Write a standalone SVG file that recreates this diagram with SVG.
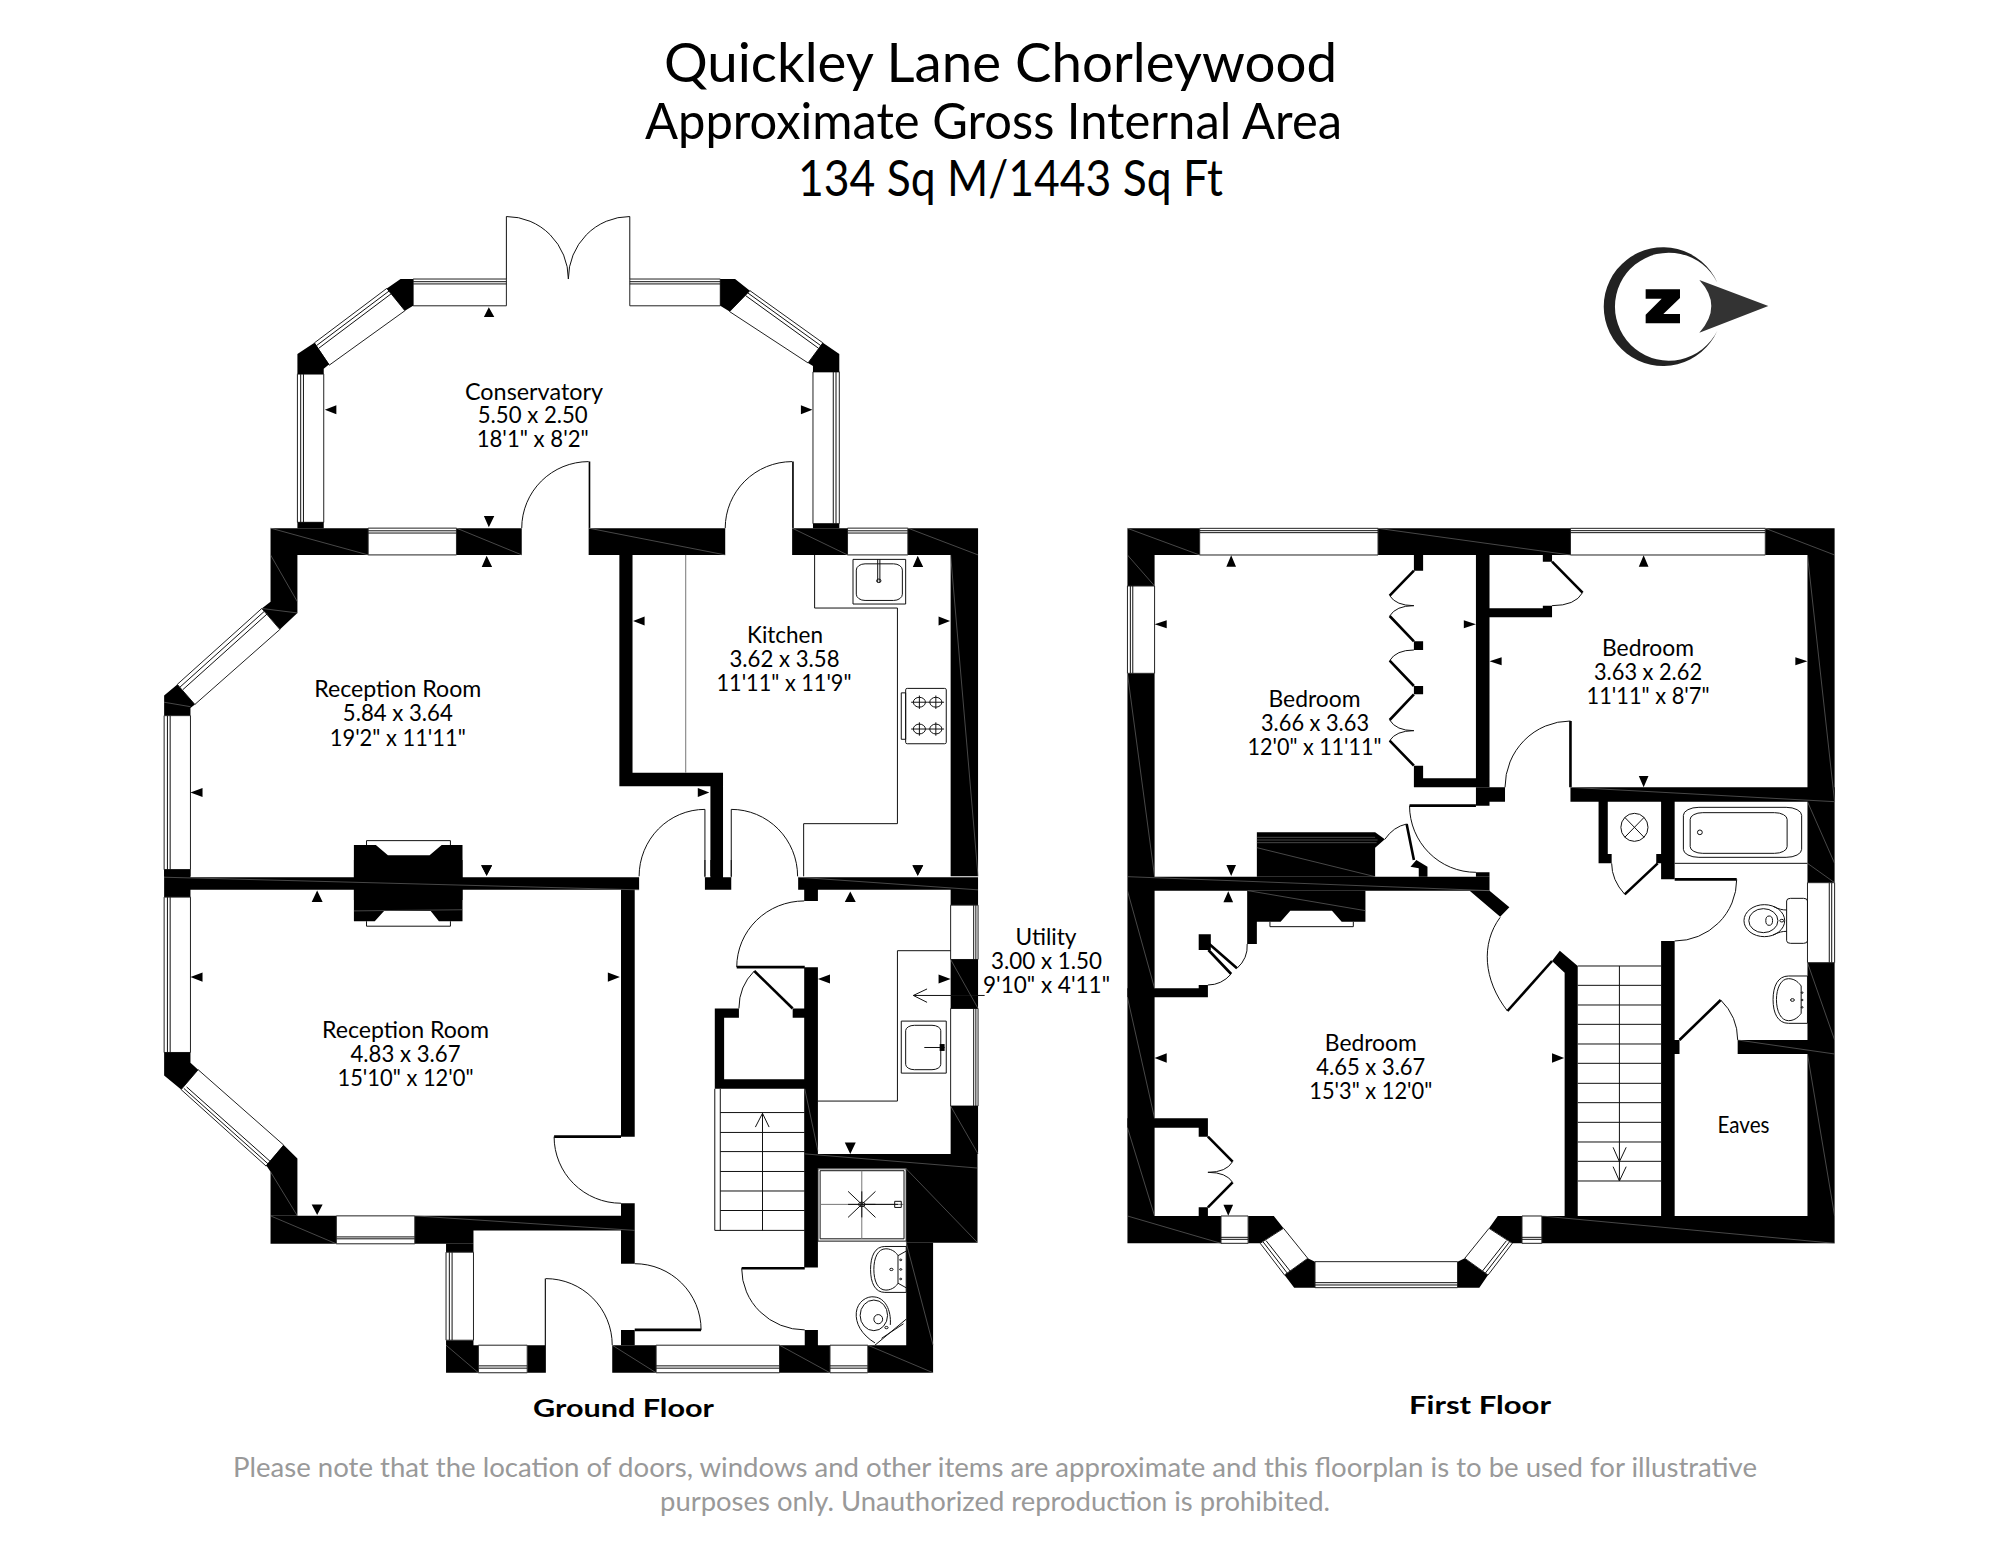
<svg xmlns="http://www.w3.org/2000/svg" width="1999" height="1545" viewBox="0 0 1999 1545">
<style>
.w{fill:#000}
.l{fill:none;stroke:#111;stroke-width:1;vector-effect:non-scaling-stroke}
.g{fill:none;stroke:#777;stroke-width:1;vector-effect:non-scaling-stroke}
.b{fill:none;stroke:#000;stroke-width:2.6;vector-effect:non-scaling-stroke}
.win{fill:#fff;stroke:#222;stroke-width:1;vector-effect:non-scaling-stroke}
.h{fill:none;stroke:#777;stroke-width:.6;vector-effect:non-scaling-stroke}
text{font-family:"Lato","Open Sans",sans-serif;fill:#000;text-anchor:middle}
.r{font-size:23px}
.t1{font-size:55px}
.t2{font-size:50px}
.f{font-size:25px;font-weight:700}
.n{font-size:27px;fill:#999}
</style>
<rect width="1999" height="1545" fill="#fff"/>
<g id="title">
<text class="t1" x="1000.5" y="81.7" textLength="673" lengthAdjust="spacingAndGlyphs">Quickley Lane Chorleywood</text>
<text class="t2" x="993.5" y="139.3" textLength="697" lengthAdjust="spacingAndGlyphs">Approximate Gross Internal Area</text>
<text class="t2" x="1010.5" y="196" textLength="425" lengthAdjust="spacingAndGlyphs">134 Sq M/1443 Sq Ft</text>
</g>
<g id="north" transform="translate(1580 230) scale(.3333)">
<path fill="#222" d="M412 158A178 178 0 1 0 412 302A162 162 0 1 1 412 158Z"/>
<path fill="#333" d="M358 150L565 228L358 308Q430 228 358 150Z"/>
<path class="w" d="M197 178H300V204L250 252H300V280H197V254L245 206H197Z"/>
</g>
<g id="ground-floor">
<g id="ground-upper" transform="translate(140 200) scale(.54847 .44643)">
<path class="l" d="M668 37V177M893 37V177M668 37A113 140 0 0 1 781 177M893 37A112 140 0 0 0 781 177"/>
<rect class="win" x="498" y="177" width="170" height="60"/><rect class="win" x="893" y="177" width="165" height="60"/>
<path class="l" d="M498 183H668M498 188H668M893 183H1058M893 188H1058"/>
<path class="win" d="M450 198L483 248L345 370L318 320Z"/><path class="l" d="M322 326L454 204M326 332L458 210"/>
<path class="win" d="M1112 203L1075 250L1218 365L1245 320Z"/><path class="l" d="M1108 208L1241 326M1104 214L1237 332"/>
<rect class="win" x="287" y="390" width="48" height="332"/><rect class="win" x="1227" y="385" width="48" height="340"/>
<path class="l" d="M293 390V722M298 390V722M1269 385V725M1264 385V725"/>
<path class="w" d="M475 177H498V237L483 248L450 198ZM1058 177H1085L1112 203L1075 250L1058 237ZM318 320L345 368L335 378V390H287V345ZM1245 320L1275 345V385H1227V372L1218 365ZM287 722H335V735H287ZM1227 725H1275V735H1227Z"/>
<path class="w" d="M238 735H416V795H287V900V925L255 962L222 915L238 900V795H238ZM577 735H696V795H577ZM818 735H1067V795H818ZM1189 735H1290V795H1189ZM1400 735H1528V1515H1478V795H1400Z"/>
<rect class="win" x="416" y="735" width="161" height="60"/><rect class="win" x="1290" y="735" width="110" height="60"/>
<path class="l" d="M416 741H577M416 746H577M1290 741H1400M1290 746H1400"/>
<path class="w" d="M818 586H821V735H818ZM1189 586H1192V735H1189Z"/>
<path class="l" d="M818 586A122 149 0 0 0 696 735M1189 586A122 149 0 0 0 1067 735"/>
<path class="win" d="M222 915L255 962L100 1130L68 1085Z"/><path class="l" d="M227 921L73 1091M232 927L78 1097"/>
<path class="w" d="M68 1085L100 1130L92 1138V1155H44V1110ZM44 1500H92V1515H44Z"/>
<rect class="win" x="44" y="1155" width="48" height="345"/><path class="l" d="M50 1155V1500M55 1155V1500"/>
<path class="w" d="M390 1445H430L452 1468H528L550 1445H588V1568H390Z"/>
<path class="l" d="M413 1445V1435H566V1445"/>
<path class="w" d="M874 795H898V1283H1063V1515H1040V1313H874Z"/>
<path class="g" d="M995 795V1283"/>
<path class="l" d="M1030 1515V1365M1078 1515V1365M1030 1365A120 150 0 0 0 910 1515M1078 1365A121 150 0 0 1 1199 1515"/>
<path class="l" d="M1230 795V914H1381V1397H1210V1515"/>
<rect class="l" x="1300" y="805" width="96" height="100"/><rect class="l" x="1306" y="815" width="84" height="82" rx="16" ry="14"/>
<path class="l" d="M1345 805V856M1349 805V856"/><circle class="l" cx="1347" cy="853" r="4"/>
<rect class="l" x="1396" y="1094" width="74" height="124" rx="3"/><rect class="l" x="1388" y="1104" width="8" height="104"/>
<ellipse class="l" cx="1421" cy="1125" rx="11" ry="11"/><ellipse class="l" cx="1451" cy="1125" rx="11" ry="11"/><ellipse class="l" cx="1421" cy="1185" rx="11" ry="11"/><ellipse class="l" cx="1451" cy="1185" rx="11" ry="11"/>
<path class="l" d="M1406 1125H1436M1421 1110V1140M1436 1125H1466M1451 1110V1140M1406 1185H1436M1421 1170V1200M1436 1185H1466M1451 1170V1200"/>
<path class="w" d="M627 262H646L636 240ZM337 470L358 460V480ZM1226 470L1205 460V480ZM627 708H646L636 733ZM623 822H642L632 797ZM1409 822H1428L1418 797ZM899 943L920 933V953ZM1477 943L1456 933V953ZM92 1327L114 1317V1337ZM1038 1327L1017 1317V1337ZM622 1490H642L632 1513ZM1409 1490H1428L1418 1513Z"/>
<path class="h" d="M238 735L416 795M577 735L696 795M818 735L1067 795M1189 735L1290 795M1400 735L1528 795M238 795L287 900M1478 795L1528 1515M222 915L287 925M44 1125L92 1135"/>
</g>
<g id="ground-lower" transform="translate(140 860) scale(.54847 .38265)">
<path class="w" d="M44 45H910V78H44ZM1030 45H1078V78H1030ZM1040 0H1063V45H1040ZM1200 45H1528V78H1200ZM44 25H92V45H44ZM44 78H92V97H44ZM1478 78H1528V118H1478ZM1211 78H1236V107H1211ZM877 78H902V723H877Z"/>
<path class="l" d="M1030 0V45M1078 0V45"/>
<path class="w" d="M390 0H588V160H545L530 133H445L428 160H390Z"/><path class="l" d="M413 160V173H566V160"/>
<rect class="win" x="44" y="97" width="48" height="406"/><path class="l" d="M50 97V503M55 97V503"/>
<path class="win" d="M106 548L262 745L230 800L75 600Z"/><path class="l" d="M80 597L235 796M85 593L240 791"/>
<path class="w" d="M44 503H92V530L106 548L75 600L44 563ZM262 745L287 780V930H238V815L230 798Z"/>
<path class="w" d="M238 930H358V1003H238ZM501 930H902V968H608V1003H501ZM877 897H902V930H877ZM877 968H902V1055H877ZM877 1228H902V1268H877Z"/>
<rect class="win" x="358" y="930" width="143" height="73"/><path class="l" d="M358 985H501M358 990H501"/>
<path class="b" d="M755 723H877M902 1228H1023M1097 1067H1212M1088 280H1212"/>
<path class="l" d="M755 723A122 174 0 0 0 877 897M902 1055A121 173 0 0 1 1023 1228M1211 107A123 173 0 0 0 1088 280M1097 1067A115 161 0 0 0 1212 1228M740 1094A121 174 0 0 1 861 1268"/>
<path class="w" d="M558 1003H608V1025H558ZM558 1255H608V1268H617V1340H558ZM706 1268H740V1340H706ZM738 1094H740V1268H738ZM861 1268H941V1340H861ZM1166 1268H1258V1340H1166ZM1327 1268H1446V1340H1327ZM1397 1000H1446V1268H1397ZM1212 1228H1236V1268H1212Z"/>
<rect class="win" x="558" y="1025" width="50" height="230"/><path class="l" d="M564 1025V1255M569 1025V1255"/>
<rect class="win" x="617" y="1268" width="89" height="72"/><rect class="win" x="941" y="1268" width="225" height="72"/><rect class="win" x="1258" y="1268" width="69" height="72"/>
<path class="l" d="M617 1322H706M617 1328H706M941 1322H1166M941 1328H1166M1258 1322H1327M1258 1328H1327"/>
<path class="w" d="M1212 768H1527V1000H1397V805H1212ZM1211 280H1236V1065H1211ZM1048 388H1092V412H1065V573H1236V598H1048ZM1190 388H1236V412H1190Z"/>
<path class="b" d="M1120 290L1190 388"/><path class="l" d="M1120 290Q1092 330 1092 388"/>
<rect class="win" x="1478" y="118" width="50" height="142"/><rect class="win" x="1478" y="388" width="50" height="255"/>
<path class="l" d="M1520 118V260M1524 118V260M1520 388V643M1524 388V643"/>
<path class="w" d="M1478 260H1528V388H1478ZM1478 643H1528V768H1478Z"/>
<path class="l" d="M1478 237H1381V630H1236"/>
<rect class="l" x="1388" y="421" width="82" height="136"/><rect class="l" x="1396" y="432" width="64" height="116" rx="16" ry="14"/>
<path class="l" d="M1430 490H1467"/><rect class="w" x="1458" y="481" width="9" height="18"/>
<path class="l" d="M1540 354H1410M1435 337L1410 354L1435 372"/>
<path class="l" d="M1048 598V968H1212M1058 598V968M1058 660H1212M1058 712H1212M1058 762H1212M1058 814H1212M1058 865H1212M1058 916H1212M1135 968V662M1122 698L1135 662L1147 698"/>
<rect class="l" x="1236" y="807" width="161" height="189"/><rect class="l" x="1240" y="812" width="153" height="178"/>
<path class="g" d="M1316 812V990M1240 900H1393"/>
<path class="l" d="M1291 866L1341 934M1341 866L1291 934M1291 900H1341M1316 866V934"/><circle class="l" cx="1316" cy="900" r="6"/>
<path class="l" d="M1322 900H1382M1376 892H1388V908H1376Z"/>
<path class="l" d="M1358 1010H1397V1130H1358C1340 1130 1332 1105 1332 1070C1332 1035 1340 1010 1358 1010Z"/>
<path class="l" d="M1360 1016C1345 1016 1338 1040 1338 1070C1338 1100 1345 1124 1360 1124C1372 1124 1380 1112 1382 1106V1034C1380 1028 1372 1016 1360 1016ZM1382 1034L1397 1022M1382 1106L1397 1118"/>
<circle class="l" cx="1370" cy="1070" r="3"/><circle class="l" cx="1387" cy="1045" r="2"/><circle class="l" cx="1387" cy="1070" r="2"/><circle class="l" cx="1387" cy="1095" r="2"/>
<path class="l" d="M1340 1262C1315 1240 1304 1210 1306 1182C1308 1155 1325 1138 1340 1142C1358 1145 1370 1175 1368 1215"/>
<ellipse class="l" cx="1338" cy="1190" rx="25" ry="40"/><ellipse class="l" cx="1346" cy="1200" rx="8" ry="12"/><circle class="l" cx="1361" cy="1222" r="3"/>
<path class="l" d="M1340 1268L1397 1200M1352 1250L1392 1212"/>
<path class="w" d="M323 80L313 110H333ZM622 14H642L632 42ZM1408 14H1428L1418 42ZM1295 82L1285 110H1305ZM92 306L114 294V318ZM875 306L853 294V318ZM1236 311L1258 299V323ZM1478 311L1456 299V323ZM1285 738H1305L1295 768ZM313 900H333L323 928Z"/>
<path class="h" d="M44 45L910 78M1200 45L1528 78M390 133L588 130M238 930L358 1003M501 930L902 968M558 1268L617 1340M861 1268L941 1340M1166 1268L1258 1340M1327 1268L1446 1340M1397 807L1527 1000M1212 768L1527 805M1478 643L1528 768M1478 260L1528 388M1397 1000L1446 1268M238 815L287 930M1212 598L1236 760"/>
</g>
</g>
<g id="first-floor" transform="translate(1110 500) scale(.48469 .33333)">
<path class="w" d="M36 85H185V165H92V258H36ZM553 85H950V165H553ZM1352 85H1495V905H1439V165H1352ZM36 520H92V1130H783V1172H92V2148H229V2230H36Z"/>
<rect class="win" x="185" y="85" width="368" height="80"/><rect class="win" x="950" y="85" width="402" height="80"/><rect class="win" x="36" y="258" width="56" height="262"/>
<path class="l" d="M185 92H553M185 98H553M950 92H1352M950 98H1352M42 258V520M47 258V520"/>
<path class="w" d="M755 165H783V862H627V797H646V835H755ZM627 165H646V212H627ZM627 424H646V450H627ZM627 558H646V583H627ZM783 325H912V352H783ZM893 165H912V185H893ZM893 317H912V325H893Z"/>
<path class="b" d="M627 212L577 287M577 348L627 424M577 482L627 558M627 583L577 660M577 722L627 797M912 185L975 278"/>
<path class="l" d="M577 287Q590 317 627 317Q590 317 577 348M627 450Q590 450 577 482M577 660Q590 692 627 692Q590 692 577 722M975 278Q960 317 912 317"/>
<path class="w" d="M755 862H815V905H783V917H755ZM755 1117H783V1130H755ZM950 862H1495V905H950ZM1008 905H1027V1062H1035V1090H1008ZM1137 905H1165V1138H1137ZM1127 1062H1137V1090H1127ZM1137 1323H1165V2148H1137ZM1137 1620H1175V1662H1137ZM1295 1620H1495V1662H1295ZM1439 905H1495V1148H1439ZM1439 1388H1495V2148H1439Z"/>
<path class="b" d="M950 663V862M618 917H755M1165 1138H1293M1130 1090L1062 1183M1175 1620L1260 1500M612 972L627 1080"/>
<path class="l" d="M950 663A135 199 0 0 0 815 862M618 917A137 200 0 0 0 755 1117M1293 1138A128 185 0 0 1 1165 1323M1062 1183Q1035 1140 1035 1090M1260 1500Q1295 1550 1295 1620M567 1018Q585 980 612 972"/>
<ellipse class="l" cx="1082" cy="982" rx="28" ry="42"/><path class="l" d="M1062 952L1102 1012M1102 952L1062 1012"/>
<rect class="l" x="1183" y="922" width="244" height="150" rx="32" ry="24"/><rect class="l" x="1197" y="938" width="200" height="122" rx="26" ry="20"/><ellipse class="l" cx="1217" cy="997" rx="5" ry="7"/>
<path class="l" d="M1165 1090H1439"/>
<path class="w" d="M303 997H547L567 1018L547 1043V1130H303ZM620 1100L632 1080L655 1100V1130H637V1105Z"/>
<path class="h" d="M303 1012H547M303 1020H552M303 1028H550"/>
<path class="w" d="M285 1172H527V1265H478L458 1232H372L352 1265H303V1332H283V1172Z"/><path class="l" d="M330 1265V1280H502V1265"/>
<path class="w" d="M183 1303H208V1350H183ZM183 1455H202V1492H36V1465H183ZM36 1855H202V1910H183V1883H36ZM183 2122H202V2148H183Z"/>
<path class="b" d="M203 1330L262 1405M203 1350L250 1422M202 1910L253 1985M253 2047L202 2122"/>
<path class="l" d="M283 1332Q285 1375 262 1405M250 1422Q230 1455 202 1455M253 1985Q240 2017 202 2017Q240 2017 253 2047"/>
<path class="w" d="M742 1172H783L824 1222L805 1250ZM912 1383L928 1352L965 1398V1418H965V2148H938V1418Z"/>
<path class="b" d="M820 1533L912 1383"/>
<path class="l" d="M805 1252C765 1330 770 1440 820 1533"/>
<path class="l" d="M965 1398H1137M965 1456H1137M965 1515H1137M965 1573H1137M965 1632H1137M965 1690H1137M965 1750H1137M965 1808H1137M965 1867H1137M965 1926H1137M965 1984H1137M965 2043H1137M1051 1398V2043M1038 1942L1051 1985L1065 1942M1038 2000L1051 2043L1065 2000"/>
<rect class="win" x="1439" y="1148" width="56" height="240"/><path class="l" d="M1484 1148V1388M1489 1148V1388"/>
<rect class="l" x="1396" y="1195" width="43" height="135" rx="8"/>
<ellipse class="l" cx="1350" cy="1262" rx="42" ry="48"/><ellipse class="l" cx="1348" cy="1262" rx="30" ry="36"/><ellipse class="l" cx="1360" cy="1262" rx="7" ry="14"/><circle class="l" cx="1386" cy="1262" r="4"/>
<path class="l" d="M1368 1219C1380 1228 1388 1230 1396 1230M1368 1305C1380 1296 1388 1294 1396 1294"/>
<path class="l" d="M1400 1428H1439V1570H1400C1378 1570 1368 1540 1368 1499C1368 1458 1378 1428 1400 1428Z"/>
<path class="l" d="M1400 1436C1384 1436 1375 1465 1375 1499C1375 1533 1384 1562 1400 1562C1414 1562 1422 1548 1426 1540V1458C1422 1450 1414 1436 1400 1436Z"/>
<circle class="l" cx="1408" cy="1500" r="4"/><circle class="l" cx="1428" cy="1478" r="2"/><circle class="l" cx="1428" cy="1500" r="2"/><circle class="l" cx="1428" cy="1522" r="2"/>
<path class="w" d="M891 2148H1495V2230H891ZM285 2148H338L358 2185L310 2230H285ZM408 2275L423 2285V2363H380L360 2325ZM717 2285L732 2275L780 2325L762 2363H717ZM800 2148H850V2230H830L782 2185Z"/>
<rect class="win" x="229" y="2148" width="56" height="82"/><rect class="win" x="850" y="2148" width="41" height="82"/><rect class="win" x="423" y="2285" width="294" height="78"/>
<path class="l" d="M229 2212H285M229 2218H285M850 2212H891M850 2218H891M423 2348H717M423 2355H717"/>
<path class="win" d="M358 2185L408 2275L360 2325L310 2230Z"/><path class="win" d="M732 2275L782 2185L830 2230L780 2325Z"/>
<path class="l" d="M316 2226L366 2320M322 2222L372 2314M824 2226L774 2320M818 2222L768 2314"/>
<path class="w" d="M240 200L250 166L260 200ZM1091 200L1101 166L1111 200ZM117 361L92 373L117 385ZM730 361L755 373L730 385ZM808 472L783 484L808 496ZM1414 472L1439 484L1414 496ZM1091 828H1111L1101 862ZM240 1095H260L250 1128ZM234 1207L244 1174L254 1207ZM117 1660L92 1674L117 1688ZM912 1660L937 1674L912 1688ZM234 2114H254L244 2147Z"/>
<path class="h" d="M36 85L185 165M553 85L950 165M1352 85L1495 165M36 165L92 258M36 520L92 1130M1439 165L1495 905M36 1130L783 1172M303 1043L547 1130M285 1172L527 1232M36 1172L92 1465M36 1492L92 1855M36 1883L92 2148M36 2148L229 2230M891 2148L1495 2230M950 862L1495 905M1439 905L1495 1090M1439 1090L1495 1148M1439 1388L1495 1620M1439 1662L1495 2148M1295 1620L1495 1662"/>
</g>
<g id="labels">
<text id="room-conservatory" class="r"><tspan x="534" y="399.5" textLength="138" lengthAdjust="spacingAndGlyphs">Conservatory</tspan><tspan x="532.7" y="423" textLength="110" lengthAdjust="spacingAndGlyphs">5.50 x 2.50</tspan><tspan x="532.7" y="447" textLength="112" lengthAdjust="spacingAndGlyphs">18'1" x 8'2"</tspan></text>
<text id="room-reception-1" class="r"><tspan x="397.8" y="697.3" textLength="167" lengthAdjust="spacingAndGlyphs">Reception Room</tspan><tspan x="397.8" y="721.4" textLength="110" lengthAdjust="spacingAndGlyphs">5.84 x 3.64</tspan><tspan x="397.8" y="745.5" textLength="136" lengthAdjust="spacingAndGlyphs">19'2" x 11'11"</tspan></text>
<text id="room-kitchen" class="r"><tspan x="785" y="642.8" textLength="76" lengthAdjust="spacingAndGlyphs">Kitchen</tspan><tspan x="784.5" y="667" textLength="110" lengthAdjust="spacingAndGlyphs">3.62 x 3.58</tspan><tspan x="784" y="691" textLength="135" lengthAdjust="spacingAndGlyphs">11'11" x 11'9"</tspan></text>
<text id="room-reception-2" class="r"><tspan x="405.5" y="1038" textLength="167" lengthAdjust="spacingAndGlyphs">Reception Room</tspan><tspan x="405.5" y="1061.7" textLength="110" lengthAdjust="spacingAndGlyphs">4.83 x 3.67</tspan><tspan x="405.5" y="1085.8" textLength="136" lengthAdjust="spacingAndGlyphs">15'10" x 12'0"</tspan></text>
<text id="room-utility" class="r"><tspan x="1046" y="945" textLength="61" lengthAdjust="spacingAndGlyphs">Utility</tspan><tspan x="1046.5" y="969" textLength="111" lengthAdjust="spacingAndGlyphs">3.00 x 1.50</tspan><tspan x="1046.5" y="993" textLength="127" lengthAdjust="spacingAndGlyphs">9'10" x 4'11"</tspan></text>
<text id="room-bedroom-1" class="r"><tspan x="1314.5" y="706.7" textLength="92" lengthAdjust="spacingAndGlyphs">Bedroom</tspan><tspan x="1315" y="730.7" textLength="108" lengthAdjust="spacingAndGlyphs">3.66 x 3.63</tspan><tspan x="1314.5" y="755" textLength="134" lengthAdjust="spacingAndGlyphs">12'0" x 11'11"</tspan></text>
<text id="room-bedroom-2" class="r"><tspan x="1648" y="655.7" textLength="92" lengthAdjust="spacingAndGlyphs">Bedroom</tspan><tspan x="1648" y="680" textLength="108" lengthAdjust="spacingAndGlyphs">3.63 x 2.62</tspan><tspan x="1648" y="704" textLength="123" lengthAdjust="spacingAndGlyphs">11'11" x 8'7"</tspan></text>
<text id="room-bedroom-3" class="r"><tspan x="1370.8" y="1050.7" textLength="92" lengthAdjust="spacingAndGlyphs">Bedroom</tspan><tspan x="1370.8" y="1075" textLength="109" lengthAdjust="spacingAndGlyphs">4.65 x 3.67</tspan><tspan x="1370.8" y="1099" textLength="123" lengthAdjust="spacingAndGlyphs">15'3" x 12'0"</tspan></text>
<text id="room-eaves" class="r" x="1743.5" y="1133.3" textLength="52" lengthAdjust="spacingAndGlyphs">Eaves</text>
<text class="f" x="623.5" y="1417" textLength="181" lengthAdjust="spacingAndGlyphs">Ground Floor</text>
<text class="f" x="1480" y="1414" textLength="142" lengthAdjust="spacingAndGlyphs">First Floor</text>
<text class="n"><tspan x="995" y="1476.5" textLength="1524" lengthAdjust="spacingAndGlyphs">Please note that the location of doors, windows and other items are approximate and this floorplan is to be used for illustrative</tspan><tspan x="995" y="1511" textLength="670" lengthAdjust="spacingAndGlyphs">purposes only. Unauthorized reproduction is prohibited.</tspan></text>
</g>
</svg>
